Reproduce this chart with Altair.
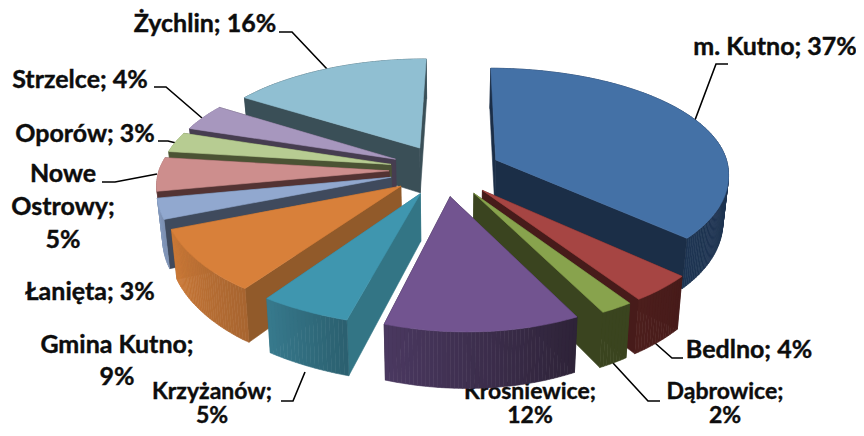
import math
import altair as alt

categories = ["m. Kutno", "Bedlno", "Dąbrowice", "Krośniewice", "Krzyżanów", "Gmina Kutno",
              "Łanięta", "Nowe Ostrowy", "Oporów", "Strzelce", "Żychlin"]
shares = [37, 4, 2, 12, 5, 9, 3, 5, 3, 4, 16]

top_colors = ["#4471A6", "#A64543", "#88A34D", "#725490", "#3F96AF", "#D8803A",
              "#91A8CF", "#CD8E8D", "#B7CC92", "#A797BE", "#90BFD2"]
radial_colors = ["#1B2E47", "#471B1A", "#3A441F", "#2E2338", "#337585", "#915A2A",
                 "#3F4A5D", "#533333", "#4B5334", "#463D50", "#3A4F57"]
wall_from = ["#1B2E47", "#471B1A", "#3A441F", "#2E2338", "#2B6070", "#A86530",
             "#7F93B5", "#A87574", "#93A675", "#87799A", "#3A4F57"]
wall_to = ["#1F3553", "#4C1E1C", "#3A441F", "#4A3860", "#37798C", "#CC7A38",
           "#8398BC", "#B07A78", "#98AC7A", "#8C7EA0", "#3A4F57"]

# Geometry of the tilted, exploded pie (page pixels)
CX, CY, RX, RY, PX, EXPLODE, DEPTH, TAPER = 445, 170, 230, 106, 0.11, 0.243, 46, 0.98
PAGE_X, PAGE_Y = 8, 8


def project(u, v, low=False):
    py = 0.15 if v > 0 else 0.13
    sy = 1 / (1 - py * v)
    sx = 1 / (1 - PX * v)
    x = RX * u * sx
    if v > 0:
        x += 13 * v ** 1.5 * min(1, max(0, (u + 0.8) / 0.5))
    elif u < 0:
        x += 5 * min(1, -v)
    if u > 0.5:
        x += 3 * (u - 0.5) / 0.7
    y = CY + RY * v * sy
    if low:
        x *= TAPER
        y += DEPTH * sy
    return [CX + x - PAGE_X, y - PAGE_Y]


def mix(a, b, t):
    ca = [int(a[i:i + 2], 16) for i in (1, 3, 5)]
    cb = [int(b[i:i + 2], 16) for i in (1, 3, 5)]
    return "#%02x%02x%02x" % tuple(round(p + (q - p) * t) for p, q in zip(ca, cb))


def poly(points, color):
    ring = points + [points[0]]
    return {"type": "Feature", "properties": {"c": color},
            "geometry": {"type": "Polygon", "coordinates": [ring]}}


total = sum(shares)
cum = 0
slices = []
for i, share in enumerate(shares):
    a0 = 2 * math.pi * cum / total
    a1 = 2 * math.pi * (cum + share) / total
    mid = (a0 + a1) / 2
    ou, ov = EXPLODE * math.sin(mid), -EXPLODE * math.cos(mid)
    n = max(8, share * 4)
    arc = [(ou + math.sin(a0 + (a1 - a0) * k / n), ov - math.cos(a0 + (a1 - a0) * k / n))
           for k in range(n + 1)]
    faces = []
    for side in (arc[0], arc[-1]):
        depth = (side[1] + ov) / 2
        faces.append((depth, [poly([project(ou, ov), project(*side),
                                    project(*side, True), project(ou, ov, True)],
                                   radial_colors[i])]))
    strips = []
    for k in range(n):
        p, q = arc[k], arc[k + 1]
        c = mix(wall_from[i], wall_to[i], k / max(n - 1, 1))
        strips.append(poly([project(*p), project(*q), project(*q, True), project(*p, True)], c))
    faces.append((ov - 0.9 * math.cos(mid), strips))
    faces.sort(key=lambda f: f[0])
    body = [g for _, fs in faces for g in fs]
    body.append(poly([project(ou, ov)] + [project(*p) for p in arc], top_colors[i]))
    slices.append((ov, body))
    cum += share

slices.sort(key=lambda s: s[0])
features = [g for _, body in slices for g in body]

pie = alt.Chart(alt.Data(values=features)).mark_geoshape(strokeWidth=0.6).encode(
    fill=alt.Fill("properties.c:N", scale=None),
    stroke=alt.Stroke("properties.c:N", scale=None),
).project(type="identity", scale=1, translate=[0, 0])

leaders = [
    [[728, 64], [716, 64], [695, 120]],
    [[683, 358], [672, 358], [655, 343]],
    [[660, 401], [648, 401], [613, 363]],
    [[281, 401], [293, 401], [305, 372]],
    [[102, 182], [115, 182], [157, 174]],
    [[158, 141], [168, 141], [176, 143]],
    [[154, 87], [166, 87], [202, 118]],
    [[279, 32], [292, 32], [327, 69]],
]
leader_features = [{"type": "Feature", "properties": {},
                    "geometry": {"type": "LineString",
                                 "coordinates": [[x - PAGE_X, y - PAGE_Y] for x, y in line]}}
                   for line in leaders]
leader_layer = alt.Chart(alt.Data(values=leader_features)).mark_geoshape(
    filled=False, stroke="#000000", strokeWidth=1.6
).project(type="identity", scale=1, translate=[0, 0])

label_lines = {
    "m. Kutno": ["m. Kutno; 37%"],
    "Bedlno": ["Bedlno; 4%"],
    "Dąbrowice": ["Dąbrowice;", "2%"],
    "Krośniewice": ["Krośniewice;", "12%"],
    "Krzyżanów": ["Krzyżanów;", "5%"],
    "Gmina Kutno": ["Gmina Kutno;", "9%"],
    "Łanięta": ["Łanięta; 3%"],
    "Nowe Ostrowy": ["Nowe", "Ostrowy;", "5%"],
    "Oporów": ["Oporów; 3%"],
    "Strzelce": ["Strzelce; 4%"],
    "Żychlin": ["Żychlin; 16%"],
}
label_anchor = {
    "m. Kutno": (775, 47, 0, 25), "Bedlno": (749, 350, 0, 25), "Dąbrowice": (725, 392, 24, 23),
    "Krośniewice": (530, 392, 24, 23), "Krzyżanów": (212, 392, 24, 23),
    "Gmina Kutno": (117, 345, 32, 25), "Łanięta": (90, 292, 0, 25),
    "Nowe Ostrowy": (63, 174, 33, 25), "Oporów": (85, 134, 0, 25),
    "Strzelce": (80, 80, 0, 25), "Żychlin": (205, 24, 0, 25),
}
rows = []
for name in categories:
    x, y, step, fs = label_anchor[name]
    for j, line in enumerate(label_lines[name]):
        rows.append({"t": line, "px": x - PAGE_X, "py": y + j * step - PAGE_Y, "fs": fs})

labels = alt.Chart(alt.Data(values=rows)).mark_text(
    font="Lato", fontWeight="bold", color="#0d0d0d", stroke="#0d0d0d",
    strokeWidth=0.4, baseline="middle", align="center"
).encode(
    x=alt.X("px:Q", scale=None, axis=None),
    y=alt.Y("py:Q", scale=None, axis=None),
    size=alt.Size("fs:Q", scale=None, legend=None),
    text="t:N",
)

chart = alt.layer(labels, leader_layer, pie).properties(
    width=848, height=420, padding=0, background="#ffffff",
    autosize=alt.AutoSizeParams(type="none"),
).configure_view(stroke=None)

chart.save("out.html", embed_options={"renderer": "svg", "actions": False})
